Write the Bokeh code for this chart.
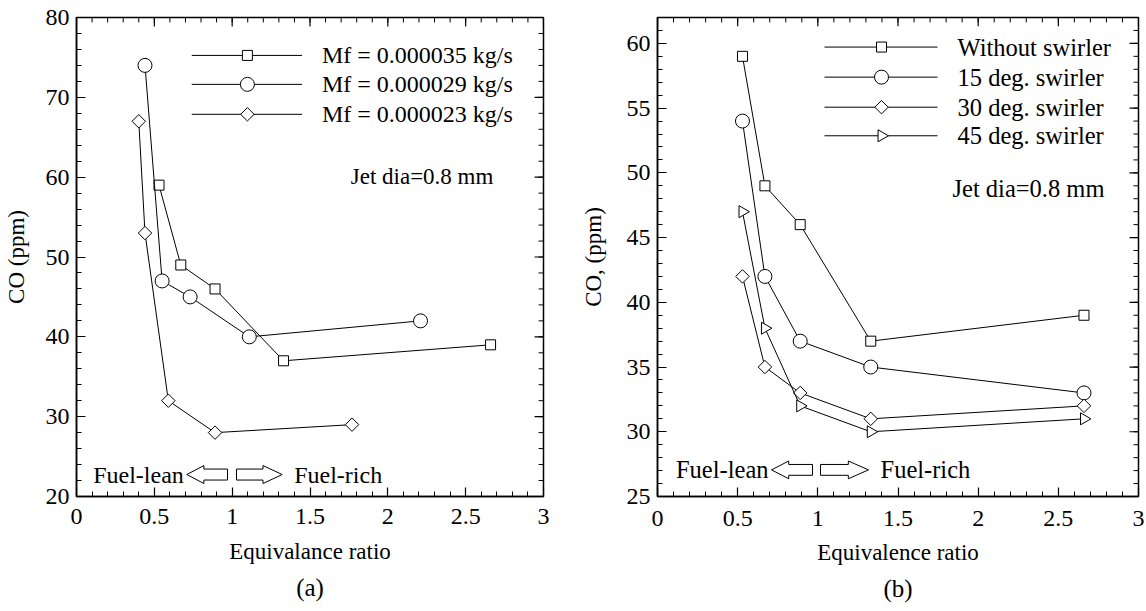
import numpy as np
from bokeh.plotting import figure
from bokeh.layouts import row
from bokeh.models import Range1d, LinearAxis, SingleIntervalTicker, Label, Title
from bokeh.embed import file_html
from bokeh.resources import INLINE

# ---------------- data: panel (a) ----------------
phi_a_35 = [0.53, 0.67, 0.89, 1.33, 2.66]
co_a_35 = [59, 49, 46, 37, 39]
phi_a_29 = [0.44, 0.55, 0.73, 1.11, 2.21]
co_a_29 = [74, 47, 45, 40, 42]
phi_a_23 = [0.40, 0.44, 0.59, 0.89, 1.77]
co_a_23 = [67, 53, 32, 28, 29]
labels_a = ["Mf = 0.000035 kg/s", "Mf = 0.000029 kg/s", "Mf = 0.000023 kg/s"]

# ---------------- data: panel (b) ----------------
phi_b = [0.53, 0.67, 0.89, 1.33, 2.66]
co_b_none = [59, 49, 46, 37, 39]
co_b_15 = [54, 42, 37, 35, 33]
co_b_30 = [42, 35, 33, 31, 32]
co_b_45 = [47, 38, 32, 30, 31]
labels_b = ["Without swirler", "15 deg. swirler", "30 deg. swirler", "45 deg. swirler"]

x_ticks = [0, 0.5, 1, 1.5, 2, 2.5, 3]
x_tick_labels = ["0", "0.5", "1", "1.5", "2", "2.5", "3"]
y_ticks_a = [20, 30, 40, 50, 60, 70, 80]
y_ticks_b = [25, 30, 35, 40, 45, 50, 55, 60]

FONT = "Liberation Serif"
TICK_FS = "24px"
LAB_FS = "23px"

# marker styles (marker, size, angle)
SQUARE = ("square", 10, 0.0)
CIRCLE = ("circle", 14, 0.0)
DIAMOND = ("square", 9.5, np.pi / 4)
TRI_R = ("triangle", 12, -np.pi / 2)


class Panel:
    def __init__(self, width, height, xr, yr, left, top, fw, fh, y_interval,
                 y_ticks, ylabel, xlabel, tag, tick_standoff, xlab_standoff,
                 ylab_standoff, title_standoff, fs):
        self.xr, self.yr = xr, yr
        self.fw, self.fh = fw, fh
        self.fs = fs
        p = figure(width=width, height=height, x_range=Range1d(*xr),
                   y_range=Range1d(*yr), output_backend="svg", toolbar_location=None,
                   min_border_left=left, min_border_right=width - left - fw,
                   min_border_top=top, min_border_bottom=height - top - fh,
                   x_axis_type=None, y_axis_type=None)
        p.outline_line_color = "black"
        p.outline_line_width = 1.5
        p.background_fill_color = "white"
        p.border_fill_color = "white"
        p.xgrid.visible = False
        p.ygrid.visible = False
        xt = SingleIntervalTicker(interval=0.5, num_minor_ticks=5)
        yt = SingleIntervalTicker(interval=y_interval, num_minor_ticks=5)
        xb = LinearAxis(ticker=xt, axis_label=xlabel,
                        major_label_overrides={t: l for t, l in zip(x_ticks, x_tick_labels)})
        yl = LinearAxis(ticker=yt, axis_label=ylabel)
        for ax in (xb, yl):
            ax.axis_line_color = "black"
            ax.axis_line_width = 1.5
            ax.major_tick_line_color = "black"
            ax.minor_tick_line_color = "black"
            ax.major_tick_in = 9
            ax.major_tick_out = 0
            ax.minor_tick_in = 5
            ax.minor_tick_out = 0
            ax.major_tick_line_width = 1.2
            ax.minor_tick_line_width = 1
            ax.major_label_text_font = FONT
            ax.major_label_text_font_size = TICK_FS
            ax.major_label_text_color = "black"
            ax.axis_label_text_font = FONT
            ax.axis_label_text_font_style = "normal"
            ax.axis_label_text_font_size = LAB_FS
            ax.axis_label_text_color = "black"
        xb.major_label_standoff = tick_standoff
        xb.axis_label_standoff = xlab_standoff
        yl.major_label_standoff = 7
        yl.axis_label_standoff = ylab_standoff
        p.add_layout(xb, "below")
        p.add_layout(yl, "left")
        p.add_layout(Title(text=tag, align="center", text_font=FONT,
                           text_font_size="25px", text_font_style="normal",
                           text_color="black", standoff=title_standoff), "below")
        self.p = p
        # mirrored ticks on top and right edges (drawn as short segments)
        ux = (xr[1] - xr[0]) / fw
        uy = (yr[1] - yr[0]) / fh
        xmaj = np.array(x_ticks, dtype=float)
        xmin_ = np.arange(xr[0], xr[1] + 1e-9, 0.1)
        ymaj = np.array(y_ticks, dtype=float)
        ymin_ = np.arange(yr[0], yr[1] + 1e-9, y_interval / 5)
        for xs, ln, lw in ((xmin_, 5, 1), (xmaj, 9, 1.2)):
            p.segment(xs, yr[1], xs, yr[1] - ln * uy, line_color="black", line_width=lw)
        for ys, ln, lw in ((ymin_, 5, 1), (ymaj, 9, 1.2)):
            p.segment(xr[1], ys, xr[1] - ln * ux, ys, line_color="black", line_width=lw)

    # pixel offset inside the frame -> data coordinates
    def dx(self, px):
        return self.xr[0] + px / self.fw * (self.xr[1] - self.xr[0])

    def dy(self, py):
        return self.yr[1] - py / self.fh * (self.yr[1] - self.yr[0])

    def series(self, x, y, style):
        m, s, a = style
        self.p.line(x, y, line_color="black", line_width=1)
        self.p.scatter(x, y, marker=m, size=s, angle=a, fill_color="white",
                       line_color="black", line_width=1)

    def legend(self, labels, styles, x0, x1, xm, xt, rows):
        for lab, st, ry in zip(labels, styles, rows):
            m, s, a = st
            y = self.dy(ry)
            self.p.line([self.dx(x0), self.dx(x1)], [y, y], line_color="black", line_width=1)
            self.p.scatter([self.dx(xm)], [y], marker=m, size=s, angle=a,
                           fill_color="white", line_color="black", line_width=1)
            self.p.add_layout(Label(x=self.dx(xt), y=y, text=lab, text_baseline="middle",
                                    text_font=FONT, text_font_size=self.fs,
                                    text_color="black"))

    def note(self, px, py, text, fs):
        self.p.add_layout(Label(x=self.dx(px), y=self.dy(py), text=text,
                                text_baseline="middle", text_font=FONT,
                                text_font_size=fs, text_color="black"))

    def arrow(self, x_tail, x_tip, yc):
        head = 0.42 * (x_tip - x_tail)
        xb = x_tip - head
        xs = [x_tail, xb, xb, x_tip, xb, xb, x_tail]
        ys = [yc + 5.5, yc + 5.5, yc + 9, yc, yc - 9, yc - 5.5, yc - 5.5]
        self.p.patch([self.dx(v) for v in xs], [self.dy(v) for v in ys],
                     fill_color="white", line_color="black", line_width=1)

    def lean_rich(self, la_tip, la_tail, ra_tail, ra_tip, yc):
        self.arrow(la_tail, la_tip, yc)
        self.arrow(ra_tail, ra_tip, yc)
        self.p.add_layout(Label(x=self.dx(la_tip), y=self.dy(yc), x_offset=-3,
                                text="Fuel-lean", text_align="right",
                                text_baseline="middle", text_font=FONT,
                                text_font_size=self.fs, text_color="black"))
        self.p.add_layout(Label(x=self.dx(ra_tip), y=self.dy(yc), x_offset=12,
                                text="Fuel-rich", text_align="left",
                                text_baseline="middle", text_font=FONT,
                                text_font_size=self.fs, text_color="black"))


# ---------------- panel (a) ----------------
A = Panel(560, 611, (0, 3), (20, 80), 73, 16, 470, 480, 10, y_ticks_a,
          "CO (ppm)", "Equivalance ratio", "(a)", 12, 12, 14, 11, "24px")
A.series(phi_a_35, co_a_35, SQUARE)
A.series(phi_a_29, co_a_29, CIRCLE)
A.series(phi_a_23, co_a_23, DIAMOND)
A.legend(labels_a, [SQUARE, CIRCLE, DIAMOND], 116, 227, 172, 247, [38, 67, 97])
A.note(276, 159, "Jet dia=0.8 mm", "23px")
A.lean_rich(111, 152, 161, 207, 458)

# ---------------- panel (b) ----------------
B = Panel(584, 611, (0, 3), (25, 62), 97, 17, 481, 486, 5, y_ticks_b,
          "CO, (ppm)", "Equivalence ratio", "(b)", 14, 11, 18, 11, "24.5px")
B.series(phi_b, co_b_none, SQUARE)
B.series(phi_b, co_b_15, CIRCLE)
B.series(phi_b, co_b_30, DIAMOND)
B.series(phi_b, co_b_45, TRI_R)
B.legend(labels_b, [SQUARE, CIRCLE, DIAMOND, TRI_R], 167, 280, 224, 300,
         [30, 60.5, 91, 120])
B.note(295, 173, "Jet dia=0.8 mm", "24.5px")
B.lean_rich(114, 155, 163, 211, 459)

layout = row(A.p, B.p, spacing=0)
open("out.html", "w").write(file_html(layout, INLINE))
